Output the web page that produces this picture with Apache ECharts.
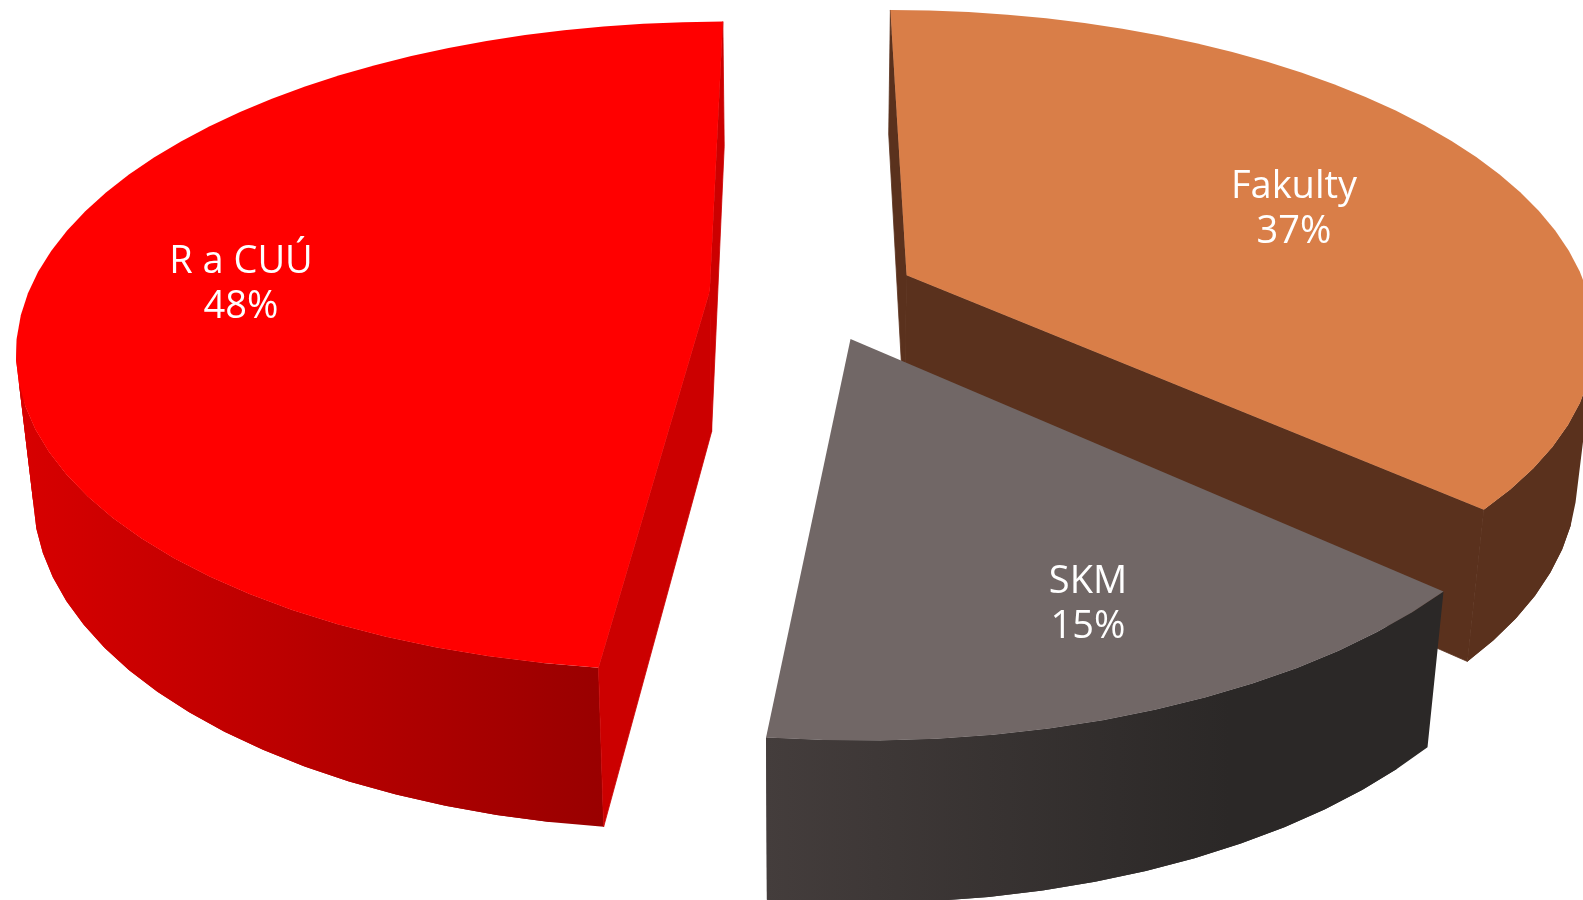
<!DOCTYPE html>
<html>
<head>
<meta charset="utf-8">
<style>html,body{margin:0;padding:0;background:#fff;overflow:hidden}#chart{width:1583px;height:900px}</style>
<script src="https://cdn.jsdelivr.net/npm/echarts@6/dist/echarts.min.js"></script>
</head>
<body>
<div id="chart"></div>
<script>
// Data (clockwise from the far side of the pie)
const categories = ['Fakulty', 'SKM', 'R a CUÚ'];
const shares = [36.8, 15, 48.2];

// Styles
const topColors = ['#d97e48', '#716766', '#ff0000'];
const innerColors = ['#5a311d', '#2b2827', '#cc0000'];
const sideStops = [['#5a311d', '#5a311d'], ['#443d3c', '#2b2827'], ['#d80000', '#990000']];
const sideRange = [[880, 1583], [765, 1230], [15, 605]];
const labelRadius = [0.63, 0.75, 0.675];
const labelTurn = [2.6, -1.5, -1.0];

// Camera model of the 3D pie
const K = 1583 / 1568;
const cam = { px: 790 * K, py: 390 * K, f: 3480 * K, D: 4.76, sin: 0.477, cos: 0.879 };
const pie = { cx: 0.022, cy: 0.299, explode: 0.148, depth: 0.23, facet: 4, rimX: 0.975, rimLift: 0.006 };

function project(X, Y, Z) {
  const w = cam.D + Y * cam.cos - Z * cam.sin;
  return [cam.px + cam.f * X / w, cam.py + cam.f * (-Y * cam.sin - Z * cam.cos) / w];
}
const rad = d => d * Math.PI / 180;

function renderItem(params, api) {
  const i = params.dataIndex;
  const total = shares.reduce((a, b) => a + b, 0);
  const before = shares.slice(0, i).reduce((a, b) => a + b, 0);
  const a0 = before / total * 360;
  const a1 = (before + api.value(1)) / total * 360;
  const mid = (a0 + a1) / 2;
  const ox = pie.cx + pie.explode * Math.sin(rad(mid));
  const oy = pie.cy + pie.explode * Math.cos(rad(mid));
  const rim = a => [ox + pie.rimX * Math.sin(rad(a)), oy + pie.rimLift + Math.cos(rad(a))];

  const angles = [];
  const n = Math.max(1, Math.ceil((a1 - a0) / pie.facet));
  for (let k = 0; k <= n; k++) angles.push(a0 + (a1 - a0) * k / n);

  const topArc = angles.map(a => { const p = rim(a); return project(p[0], p[1], 0); });
  const botArc = angles.map(a => { const p = rim(a); return project(p[0], p[1], -pie.depth); });
  const cTop = project(ox, oy, 0), cBot = project(ox, oy, -pie.depth);

  const poly = (pts, fill, seam) => {
    const style = { fill: fill };
    if (seam) { style.stroke = seam; style.lineWidth = 0.8; }
    return { type: 'polygon', silent: true, shape: { points: pts }, style: style };
  };
  const grad = new echarts.graphic.LinearGradient(
    sideRange[i][0], 0, sideRange[i][1], 0,
    [{ offset: 0, color: sideStops[i][0] }, { offset: 1, color: sideStops[i][1] }], true);
  const last = topArc.length - 1;

  // camera position on the pie's plane, used to skip faces turned away from it
  const camY = -cam.D * cam.cos;
  const faces = (nx, ny, px, py) => nx * (0 - px) + ny * (camY - py) > 0;

  const children = [];
  for (let k = 0; k < last; k++) {
    const m = rad((angles[k] + angles[k + 1]) / 2);
    const r = rim((angles[k] + angles[k + 1]) / 2);
    if (faces(Math.sin(m), Math.cos(m), r[0], r[1])) {
      // each facet overlaps the next one, so that no seam shows between them
      const end = Math.min(k + 2, last);
      children.push(poly(
        topArc.slice(k, end + 1).concat(botArc.slice(k, end + 1).reverse()), grad));
    }
  }
  if (faces(-Math.cos(rad(a0)), Math.sin(rad(a0)), ox, oy)) {
    children.push(poly([cTop, topArc[0], botArc[0], cBot], innerColors[i], innerColors[i]));
  }
  if (faces(Math.cos(rad(a1)), -Math.sin(rad(a1)), ox, oy)) {
    children.push(poly([cTop, topArc[last], botArc[last], cBot], innerColors[i], innerColors[i]));
  }
  children.push(poly([cTop].concat(topArc), topColors[i]));

  const la = rad(mid + labelTurn[i]);
  const lp = project(ox + labelRadius[i] * Math.sin(la), oy + labelRadius[i] * Math.cos(la), 0);
  children.push({
    type: 'text', silent: true,
    style: {
      x: Math.round(lp[0]), y: Math.round(lp[1] + 2),
      text: api.value(2) + '\n' + Math.round(api.value(1)) + '%',
      fill: '#ffffff',
      font: '38px "Open Sans", sans-serif',
      lineHeight: 45,
      align: 'center', verticalAlign: 'middle'
    }
  });
  return { type: 'group', children: children };
}

const chart = echarts.init(document.getElementById('chart'), null, { renderer: 'canvas' });
chart.setOption({
  animation: false,
  backgroundColor: '#ffffff',
  series: [{
    type: 'custom',
    coordinateSystem: 'none',
    renderItem: renderItem,
    clip: false,
    dimensions: ['index', 'share', 'name'],
    data: categories.map((c, i) => [i, shares[i], c])
  }]
});
</script>
</body>
</html>
